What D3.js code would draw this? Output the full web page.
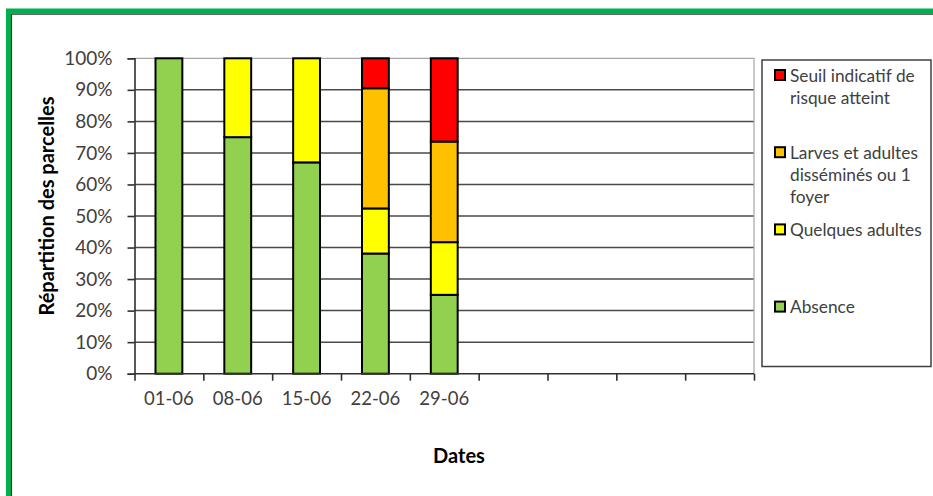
<!DOCTYPE html>
<html>
<head>
<meta charset="utf-8">
<script src="https://cdn.jsdelivr.net/npm/d3@7"></script>
<style>
  html, body { margin: 0; padding: 0; background: #fff; }
  svg { display: block; }
</style>
</head>
<body>
<div id="chart"></div>
<script>
// data
const dates = ["01-06", "08-06", "15-06", "22-06", "29-06"];
const slotCount = 9; // axis keeps room for 4 empty weeks
const absence = [100, 75, 67, 38.1, 25];
const quelquesAdultes = [0, 25, 33, 14.3, 16.7];
const larvesAdultes = [0, 0, 0, 38.1, 31.9];
const seuilRisque = [0, 0, 0, 9.5, 26.4];
const seriesNames = ["Absence", "Quelques adultes", "Larves et adultes disséminés ou 1 foyer", "Seuil indicatif de risque atteint"];
const seriesColors = ["#92D050", "#FFFF00", "#FFC000", "#FF0000"];
const legendLines = [
  ["Absence"],
  ["Quelques adultes"],
  ["Larves et adultes", "disséminés ou 1", "foyer"],
  ["Seuil indicatif de", "risque atteint"]
];
const yTicks = [0, 10, 20, 30, 40, 50, 60, 70, 80, 90, 100];

const W = 933, H = 496;
const font = "Lato, 'Open Sans', sans-serif";
const plot = { left: 134.5, top: 58.3, right: 754, bottom: 373.7 };

const svg = d3.select("#chart").append("svg")
  .attr("width", W).attr("height", H)
  .style("font-family", font);

// frame
svg.append("rect").attr("x", 0).attr("y", 0).attr("width", W).attr("height", H).attr("fill", "#fff");
svg.append("rect")
  .attr("x", 8.5).attr("y", 11).attr("width", W + 20).attr("height", H + 20)
  .attr("fill", "none").attr("stroke", "#00B050").attr("stroke-width", 5);
svg.append("path")
  .attr("d", `M11.5,${H + 5}V14.2H${W + 5}`)
  .attr("fill", "none").attr("stroke", "#2b3a2f").attr("stroke-width", 1.2);

const rows = dates.map((d, i) => ({
  idx: i,
  [seriesNames[0]]: absence[i],
  [seriesNames[1]]: quelquesAdultes[i],
  [seriesNames[2]]: larvesAdultes[i],
  [seriesNames[3]]: seuilRisque[i]
}));

const x = d3.scaleBand()
  .domain(d3.range(slotCount))
  .range([plot.left, plot.right])
  .paddingInner(0.61).paddingOuter(0.305);

// category boundaries (ticks sit between categories)
const xEdge = d3.scaleLinear().domain([0, slotCount]).range([plot.left, plot.right]);

const y = d3.scaleLinear().domain([0, 100]).range([plot.bottom, plot.top]);

const color = d3.scaleOrdinal().domain(seriesNames).range(seriesColors);

// gridlines
svg.append("g")
  .selectAll("line")
  .data(yTicks.filter(t => t > 0 && t < 100))
  .join("line")
    .attr("x1", plot.left).attr("x2", plot.right)
    .attr("y1", d => y(d)).attr("y2", d => y(d))
    .attr("stroke", "#4a4a4a").attr("stroke-width", 1.5);

// plot border top/right
svg.append("path")
  .attr("d", `M${plot.left},${y(100)}H${plot.right}V${plot.bottom}`)
  .attr("fill", "none").attr("stroke", "#a6a6a6").attr("stroke-width", 1.2);

// bars
const stacked = d3.stack().keys(seriesNames)(rows);
svg.append("g")
  .selectAll("g")
  .data(stacked)
  .join("g")
    .attr("fill", d => color(d.key))
  .selectAll("rect")
  .data(d => d.filter(s => s[1] - s[0] > 0))
  .join("rect")
    .attr("x", d => x(d.data.idx))
    .attr("width", x.bandwidth())
    .attr("y", d => y(d[1]))
    .attr("height", d => y(d[0]) - y(d[1]))
    .attr("stroke", "#000").attr("stroke-width", 2);

// y axis
const yAxis = svg.append("g")
  .attr("transform", `translate(${plot.left},0)`)
  .call(d3.axisLeft(y).tickValues(yTicks).tickFormat(d => d + "%").tickSize(7).tickPadding(15));
yAxis.select(".domain").attr("stroke", "#303030").attr("stroke-width", 1.6);
yAxis.selectAll(".tick line").attr("stroke", "#303030").attr("stroke-width", 1.6);
yAxis.selectAll(".tick text").attr("font-family", font).attr("font-size", 19).attr("fill", "#404040");

// x axis
const xAxis = svg.append("g")
  .attr("transform", `translate(0,${plot.bottom})`)
  .call(d3.axisBottom(xEdge).tickValues(d3.range(slotCount + 1)).tickSize(7).tickFormat(""));
xAxis.select(".domain").attr("stroke", "#303030").attr("stroke-width", 1.6).attr("d", `M${plot.left},0H${plot.right}`);
xAxis.selectAll(".tick line").attr("stroke", "#303030").attr("stroke-width", 1.6);

svg.append("g")
  .selectAll("text")
  .data(dates)
  .join("text")
    .attr("x", (d, i) => x(i) + x.bandwidth() / 2)
    .attr("y", 405)
    .attr("text-anchor", "middle")
    .attr("font-size", 18.5)
    .attr("fill", "#404040")
    .text(d => d);

// axis titles
svg.append("text")
  .attr("transform", "translate(54,206) rotate(-90)")
  .attr("text-anchor", "middle")
  .attr("font-size", 20).attr("font-weight", "bold").attr("fill", "#000")
  .text("Répartition des parcelles");

svg.append("text")
  .attr("x", 459).attr("y", 463)
  .attr("text-anchor", "middle")
  .attr("font-size", 20).attr("font-weight", "bold").attr("fill", "#000")
  .text("Dates");

// legend
const legend = svg.append("g");
legend.append("rect")
  .attr("x", 762).attr("y", 60).attr("width", 169).attr("height", 306.5)
  .attr("fill", "#fff").attr("stroke", "#404040").attr("stroke-width", 1.5);

const legendOrder = d3.range(seriesNames.length).reverse();
const item = legend.selectAll("g.item")
  .data(legendOrder)
  .join("g")
    .attr("class", "item")
    .attr("transform", (d, k) => `translate(0,${75 + k * 77.2})`);

item.append("rect")
  .attr("x", 775).attr("y", -5).attr("width", 10).attr("height", 10)
  .attr("fill", d => seriesColors[d]).attr("stroke", "#000").attr("stroke-width", 2);

item.append("text")
  .attr("font-size", 17.3).attr("fill", "#404040")
  .selectAll("tspan")
  .data(d => legendLines[d])
  .join("tspan")
    .attr("x", 790)
    .attr("y", (d, j) => 6.5 + j * 22.3)
    .text(d => d);
</script>
</body>
</html>
